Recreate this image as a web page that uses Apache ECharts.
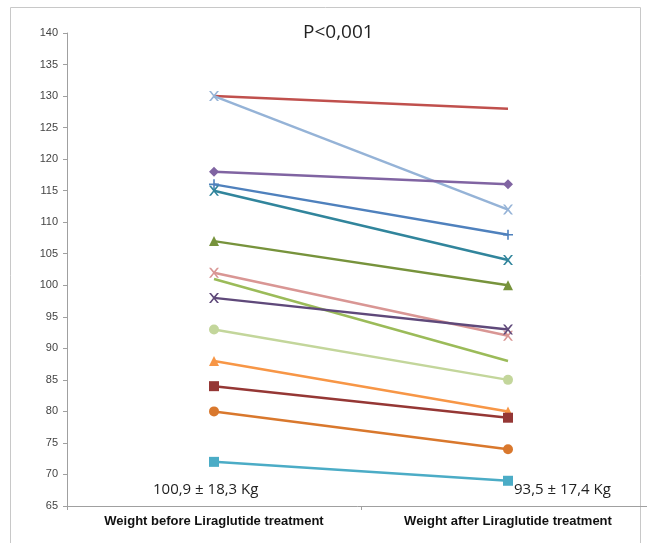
<!DOCTYPE html>
<html>
<head>
<meta charset="utf-8">
<script src="https://cdn.jsdelivr.net/npm/echarts@6/dist/echarts.min.js"></script>
<style>html,body{margin:0;padding:0;background:#fff;}#c{width:647px;height:543px;}</style>
</head>
<body>
<div id="c"></div>
<script>
const categories = ['Weight before Liraglutide treatment', 'Weight after Liraglutide treatment'];
const weightBefore = [130, 130, 118, 116, 115, 107, 102, 101, 98, 93, 88, 84, 80, 72];
const weightAfter  = [128, 112, 116, 108, 104, 100, 92, 88, 93, 85, 80, 79, 74, 69];
const yTicks = { min: 65, max: 140, step: 5 };
const title = 'P<0,001';
const summaryBefore = '100,9 \u00b1 18,3 Kg';
const summaryAfter = '93,5 \u00b1 17,4 Kg';

const X_PATH = 'path://M0,0 L2,0 L5,3.6 L8,0 L10,0 L6,5 L10,10 L8,10 L5,6.4 L2,10 L0,10 L4,5 Z';
const PLUS_PATH = 'path://M4.2,0 H5.8 V4.2 H10 V5.8 H5.8 V10 H4.2 V5.8 H0 V4.2 H4.2 Z';
const styles = [
  { color: '#C0504D', symbol: 'none' },
  { color: '#95B3D7', symbol: X_PATH },
  { color: '#8064A2', symbol: 'diamond' },
  { color: '#4F81BD', symbol: PLUS_PATH },
  { color: '#31859C', symbol: X_PATH },
  { color: '#77933C', symbol: 'triangle' },
  { color: '#D99694', symbol: X_PATH },
  { color: '#9BBB59', symbol: 'none' },
  { color: '#5F497A', symbol: X_PATH },
  { color: '#C3D69B', symbol: 'circle' },
  { color: '#F79646', symbol: 'triangle' },
  { color: '#953735', symbol: 'rect' },
  { color: '#D9782D', symbol: 'circle' },
  { color: '#4BACC6', symbol: 'rect' }
];

const series = weightBefore.map((b, i) => ({
  type: 'line',
  data: [b, weightAfter[i]],
  symbol: styles[i].symbol,
  symbolSize: styles[i].symbol === 'none' ? 0 : 10,
  lineStyle: { color: styles[i].color, width: 2.5 },
  itemStyle: { color: styles[i].color },
  silent: true,
  animation: false
}));

const chart = echarts.init(document.getElementById('c'), null, { renderer: 'canvas' });
chart.setOption({
  animation: false,
  grid: { left: 67, width: 588, top: 33, bottom: 37, containLabel: false, outerBoundsMode: 'none' },
  xAxis: {
    type: 'category',
    data: categories,
    boundaryGap: true,
    axisLine: { lineStyle: { color: '#a0a0a0', width: 1 } },
    axisTick: { show: true, length: 4, lineStyle: { color: '#a0a0a0' } },
    axisLabel: {
      color: '#111', fontWeight: 'bold', fontSize: 13, margin: 9,
      fontFamily: '"Liberation Sans Narrow", "Arial Narrow", "Liberation Sans", sans-serif'
    }
  },
  yAxis: {
    type: 'value',
    min: yTicks.min, max: yTicks.max, interval: yTicks.step,
    splitLine: { show: false },
    axisLine: { show: true, lineStyle: { color: '#a0a0a0', width: 1 } },
    axisTick: { show: true, length: 4, lineStyle: { color: '#a0a0a0' } },
    axisLabel: { color: '#444', fontSize: 11, margin: 9, fontFamily: '"Liberation Sans", sans-serif' }
  },
  graphic: [
    { type: 'rect', shape: { x: 10.5, y: 7.5, width: 630, height: 560 }, style: { fill: 'none', stroke: '#c8c8c8', lineWidth: 1 }, z: -1 },
    { type: 'text', left: 303, top: 23, style: { text: title, fontSize: 19, fill: '#222', fontFamily: '"Open Sans", "Liberation Sans", sans-serif' } },
    { type: 'text', left: 153, top: 482, style: { text: summaryBefore, fontSize: 15, fill: '#222', fontFamily: '"Open Sans", "Liberation Sans", sans-serif' } },
    { type: 'text', left: 514, top: 482, style: { text: summaryAfter, fontSize: 15, fill: '#222', fontFamily: '"Open Sans", "Liberation Sans", sans-serif' } }
  ],
  series: series
});
</script>
</body>
</html>
